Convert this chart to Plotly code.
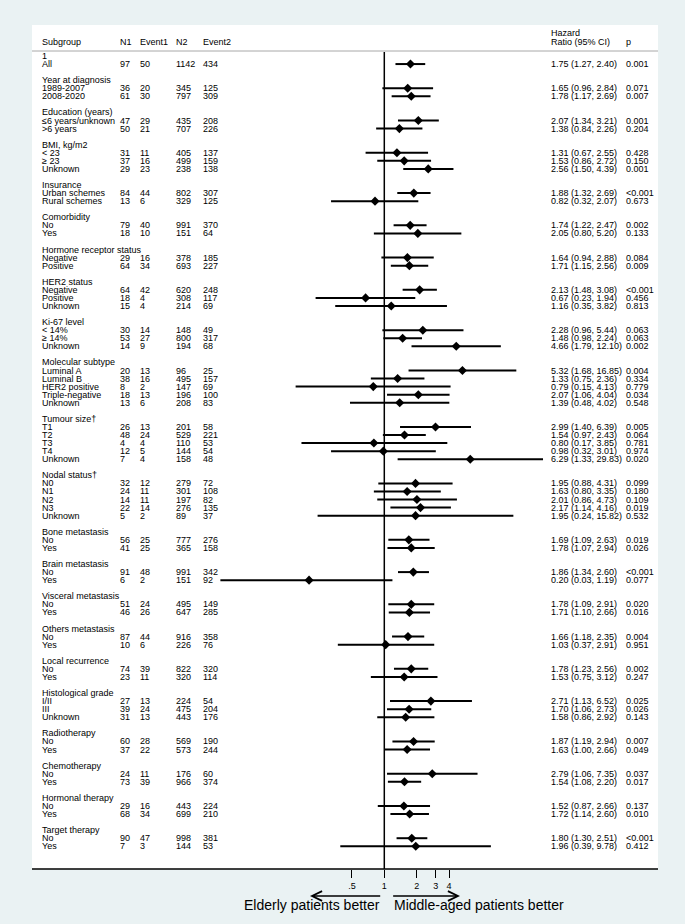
import math
import plotly.graph_objects as go

# ---------------- data ----------------
groups = ["1", "Year at diagnosis", "Education (years)", "BMI, kg/m2", "Insurance",
          "Comorbidity", "Hormone receptor status", "HER2 status", "Ki-67 level",
          "Molecular subtype", "Tumour size\u2020", "Nodal status\u2020", "Bone metastasis",
          "Brain metastasis", "Visceral metastasis", "Others metastasis", "Local recurrence",
          "Histological grade", "Radiotherapy", "Chemotherapy", "Hormonal therapy",
          "Target therapy"]
group_sizes = [1, 2, 2, 3, 2, 2, 2, 3, 3, 5, 5, 5, 2, 2, 2, 2, 2, 3, 2, 2, 2, 2]

labels = ["All",
          "1989-2007", "2008-2020",
          "\u22646 years/unknown", ">6 years",
          "< 23", "\u2265 23", "Unknown",
          "Urban schemes", "Rural schemes",
          "No", "Yes",
          "Negative", "Positive",
          "Negative", "Positive", "Unknown",
          "< 14%", "\u2265 14%", "Unknown",
          "Luminal A", "Luminal B", "HER2 positive", "Triple-negative", "Unknown",
          "T1", "T2", "T3", "T4", "Unknown",
          "N0", "N1", "N2", "N3", "Unknown",
          "No", "Yes",
          "No", "Yes",
          "No", "Yes",
          "No", "Yes",
          "No", "Yes",
          "I/II", "III", "Unknown",
          "No", "Yes",
          "No", "Yes",
          "No", "Yes",
          "No", "Yes"]
n1 = [97, 36, 61, 47, 50, 31, 37, 29, 84, 13, 79, 18, 29, 64, 64, 18, 15, 30, 53, 14,
      20, 38, 8, 18, 13, 26, 48, 4, 12, 7, 32, 24, 14, 22, 5, 56, 41, 91, 6, 51, 46,
      87, 10, 74, 23, 27, 39, 31, 60, 37, 24, 73, 29, 68, 90, 7]
event1 = [50, 20, 30, 29, 21, 11, 16, 23, 44, 6, 40, 10, 16, 34, 42, 4, 4, 14, 27, 9,
          13, 16, 2, 13, 6, 13, 24, 4, 5, 4, 12, 11, 11, 14, 2, 25, 25, 48, 2, 24, 26,
          44, 6, 39, 11, 13, 24, 13, 28, 22, 11, 39, 16, 34, 47, 3]
n2 = [1142, 345, 797, 435, 707, 405, 499, 238, 802, 329, 991, 151, 378, 693, 620, 308,
      214, 148, 800, 194, 96, 495, 147, 196, 208, 201, 529, 110, 144, 158, 279, 301, 197,
      276, 89, 777, 365, 991, 151, 495, 647, 916, 226, 822, 320, 224, 475, 443, 569, 573,
      176, 966, 443, 699, 998, 144]
event2 = [434, 125, 309, 208, 226, 137, 159, 138, 307, 125, 370, 64, 185, 227, 248, 117,
          69, 49, 317, 68, 25, 157, 69, 100, 83, 58, 221, 53, 54, 48, 72, 108, 82, 135, 37,
          276, 158, 342, 92, 149, 285, 358, 76, 320, 114, 54, 204, 176, 190, 244, 60, 374,
          224, 210, 381, 53]
hr = [1.75, 1.65, 1.78, 2.07, 1.38, 1.31, 1.53, 2.56, 1.88, 0.82, 1.74, 2.05, 1.64, 1.71,
      2.13, 0.67, 1.16, 2.28, 1.48, 4.66, 5.32, 1.33, 0.79, 2.07, 1.39, 2.99, 1.54, 0.80,
      0.98, 6.29, 1.95, 1.63, 2.01, 2.17, 1.95, 1.69, 1.78, 1.86, 0.20, 1.78, 1.71, 1.66,
      1.03, 1.78, 1.53, 2.71, 1.70, 1.58, 1.87, 1.63, 2.79, 1.54, 1.52, 1.72, 1.80, 1.96]
lo = [1.27, 0.96, 1.17, 1.34, 0.84, 0.67, 0.86, 1.50, 1.32, 0.32, 1.22, 0.80, 0.94, 1.15,
      1.48, 0.23, 0.35, 0.96, 0.98, 1.79, 1.68, 0.75, 0.15, 1.06, 0.48, 1.40, 0.97, 0.17,
      0.32, 1.33, 0.88, 0.80, 0.86, 1.14, 0.24, 1.09, 1.07, 1.34, 0.03, 1.09, 1.10, 1.18,
      0.37, 1.23, 0.75, 1.13, 1.06, 0.86, 1.19, 1.00, 1.06, 1.08, 0.87, 1.14, 1.30, 0.39]
hi = [2.40, 2.84, 2.69, 3.21, 2.26, 2.55, 2.72, 4.39, 2.69, 2.07, 2.47, 5.20, 2.88, 2.56,
      3.08, 1.94, 3.82, 5.44, 2.24, 12.10, 16.85, 2.36, 4.13, 4.04, 4.02, 6.39, 2.43, 3.85,
      3.01, 29.83, 4.31, 3.35, 4.73, 4.16, 15.82, 2.63, 2.94, 2.60, 1.19, 2.91, 2.66, 2.35,
      2.91, 2.56, 3.12, 6.52, 2.73, 2.92, 2.94, 2.66, 7.35, 2.20, 2.66, 2.60, 2.51, 9.78]
pval = ["0.001", "0.071", "0.007", "0.001", "0.204", "0.428", "0.150", "0.001", "<0.001",
        "0.673", "0.002", "0.133", "0.084", "0.009", "<0.001", "0.456", "0.813", "0.063",
        "0.063", "0.002", "0.004", "0.334", "0.779", "0.034", "0.548", "0.005", "0.064",
        "0.781", "0.974", "0.020", "0.099", "0.180", "0.109", "0.019", "0.532", "0.019",
        "0.026", "<0.001", "0.077", "0.020", "0.016", "0.004", "0.951", "0.002", "0.247",
        "0.025", "0.026", "0.143", "0.007", "0.049", "0.037", "0.017", "0.137", "0.010",
        "<0.001", "0.412"]
tick_vals = [0.5, 1, 2, 3, 4]
tick_text = [".5", "1", "2", "3", "4"]
left_label = "Elderly patients better"
right_label = "Middle-aged patients better"

# ---------------- layout constants ----------------
W, H = 685, 924
PL, PR, PT, PB = 32, 27, 25, 55          # white panel edges via margins
panel_w = W - PL - PR
panel_h = H - PT - PB
ROW0_PX, ROW_STEP = 56.0, 8.064          # pixel y of row 1, spacing
BG = "#EAF2F3"


def row_from_px(py):
    return 1 + (py - ROW0_PX) / ROW_STEP


def xp(px):
    return (px - PL) / panel_w


y_top = row_from_px(PT)
y_bot = row_from_px(H - PB)

PX_PER_DEC = 32.4 / math.log10(2)
X1_PX = 384.3
dom_l, dom_r = 215, 560
xr = [(dom_l - X1_PX) / PX_PER_DEC, (dom_r - X1_PX) / PX_PER_DEC]

FONT = "Liberation Sans, Arial, Helvetica, sans-serif"
FS = 9

# row assignment
header_rows, item_rows = [], []
r = 1
for g, s in zip(groups, group_sizes):
    header_rows.append(r)
    for k in range(s):
        item_rows.append(r + 1 + k)
    r += s + 2

fig = go.Figure()

# CI lines
cx, cy = [], []
for l_, h_, rr in zip(lo, hi, item_rows):
    cx += [l_, h_, None]
    cy += [rr, rr, None]
fig.add_trace(go.Scatter(x=cx, y=cy, mode="lines", line=dict(color="black", width=2),
                         hoverinfo="skip", showlegend=False))
fig.add_trace(go.Scatter(x=hr, y=item_rows, mode="markers",
                         marker=dict(symbol="diamond", size=7, color="black"),
                         showlegend=False))

ann = []


def txt(x_px, y, s, size=FS):
    ann.append(dict(x=xp(x_px - 1.5), y=y, xref="paper", yref="y", text=s, showarrow=False,
                    xanchor="left", yanchor="middle", borderpad=0,
                    font=dict(family=FONT, size=size, color="black")))


cols = [42.5, 120, 140, 176, 203, 551, 626]
hdr_y = row_from_px(42)
for c, s in zip(cols[:5], ["Subgroup", "N1", "Event1", "N2", "Event2"]):
    txt(c, hdr_y, s)
txt(551, row_from_px(33.3), "Hazard")
txt(551, hdr_y, "Ratio (95% CI)")
txt(626, hdr_y, "p")

for g, rr in zip(groups, header_rows):
    txt(cols[0], rr, g)
for i, rr in enumerate(item_rows):
    txt(cols[0], rr, labels[i])
    txt(cols[1], rr, str(n1[i]))
    txt(cols[2], rr, str(event1[i]))
    txt(cols[3], rr, str(n2[i]))
    txt(cols[4], rr, str(event2[i]))
    txt(cols[5], rr, f"{hr[i]:.2f} ({lo[i]:.2f}, {hi[i]:.2f})")
    txt(cols[6], rr, pval[i])

# arrows below axis (annotation x on log axes is given in log10 units)
L = math.log10
arr_y = (H - PB - 896) / panel_h
ann.append(dict(x=L(0.204), y=arr_y, ax=L(0.946), ay=0, xref="x", yref="paper",
                axref="x", ayref="pixel", text="", showarrow=True, arrowhead=5,
                arrowsize=1.5, arrowwidth=1.3, arrowcolor="black", standoff=0,
                startstandoff=0))
ann.append(dict(x=L(5.05), y=arr_y, ax=L(1.17), ay=0, xref="x", yref="paper",
                axref="x", ayref="pixel", text="", showarrow=True, arrowhead=5,
                arrowsize=1.5, arrowwidth=1.3, arrowcolor="black", standoff=0,
                startstandoff=0))
lab_y = (H - PB - 905) / panel_h
ann.append(dict(x=L(0.935), y=lab_y, xref="x", yref="paper", text=left_label,
                showarrow=False, xanchor="right", yanchor="middle", borderpad=0,
                font=dict(family=FONT, size=14, color="black")))
ann.append(dict(x=L(1.205), y=lab_y, xref="x", yref="paper", text=right_label,
                showarrow=False, xanchor="left", yanchor="middle", borderpad=0,
                font=dict(family=FONT, size=14, color="black")))

shapes = [
    dict(type="rect", xref="paper", yref="paper", x0=0, x1=1, y0=0, y1=1,
         fillcolor="white", line=dict(width=0), layer="below"),
    dict(type="line", xref="paper", yref="y", x0=0, x1=1,
         y0=row_from_px(51), y1=row_from_px(51), line=dict(color="#a8a8a8", width=1)),
    dict(type="line", xref="x", yref="y", x0=1, x1=1, y0=row_from_px(52), y1=y_bot,
         line=dict(color="black", width=1.5)),
    dict(type="line", xref="paper", yref="paper", x0=0, x1=1, y0=0, y1=0,
         line=dict(color="black", width=1.5)),
]

fig.update_layout(
    width=W, height=H,
    margin=dict(l=PL, r=PR, t=PT, b=PB, pad=0),
    paper_bgcolor=BG, plot_bgcolor="rgba(0,0,0,0)",
    showlegend=False,
    xaxis=dict(type="log", range=xr, domain=[xp(dom_l), xp(dom_r)],
               tickvals=tick_vals, ticktext=tick_text, ticks="outside", ticklen=8,
               tickwidth=1.3, tickcolor="black", showgrid=False, zeroline=False,
               showline=False, tickfont=dict(family=FONT, size=9, color="black")),
    yaxis=dict(range=[y_bot, y_top], visible=False, showgrid=False, zeroline=False),
    annotations=ann, shapes=shapes,
)

fig.write_html("out.html", config={"displayModeBar": False},
               post_script="document.body.style.margin='0';"
                           "document.body.style.background='" + BG + "';")
